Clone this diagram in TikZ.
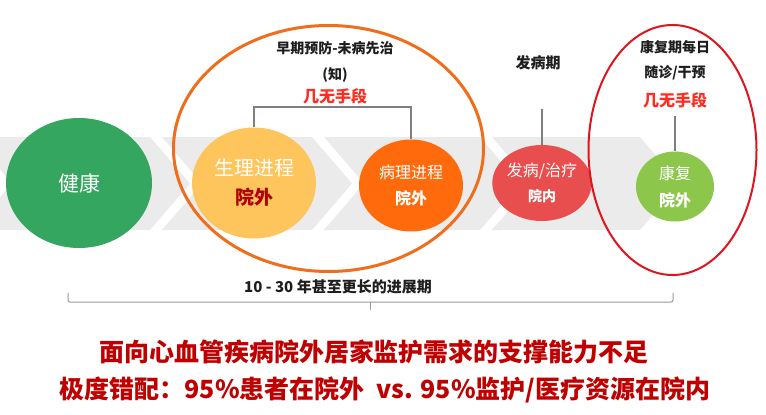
\documentclass[tikz,border=0pt]{standalone}
\usepackage{fontspec}
\setmainfont{Noto Sans CJK SC}
\usetikzlibrary{shapes.geometric}
\definecolor{bandgray}{HTML}{EBEBEB}
\definecolor{cgreen}{HTML}{34A65F}
\definecolor{cyellow}{HTML}{FDC55B}
\definecolor{corange}{HTML}{FF6A0D}
\definecolor{cred}{HTML}{E84E4E}
\definecolor{clgreen}{HTML}{8CC64B}
\definecolor{ringorange}{HTML}{EF6E1C}
\definecolor{ringred}{HTML}{E0141E}
\definecolor{brightred}{HTML}{FF2D1F}
\definecolor{darkred}{HTML}{B00000}
\definecolor{bottomred}{HTML}{C00000}
\definecolor{conngray}{HTML}{7F7F7F}
\definecolor{labelblack}{HTML}{1E1E1E}
\begin{document}
\begin{tikzpicture}[x=1pt,y=-1pt,
  stage/.style={ellipse,inner sep=0pt,text=white,align=center},
  ring/.style={ellipse,inner sep=0pt},
  toplabel/.style={inner sep=0pt,text=labelblack,font=\bfseries\fontsize{14pt}{16pt}\selectfont},
  redlabel/.style={inner sep=0pt,text=brightred,font=\bfseries\fontsize{16pt}{18pt}\selectfont},
  bottomline/.style={inner sep=0pt,text=bottomred,font=\bfseries\fontsize{25pt}{28pt}\selectfont},
  conn/.style={draw=conngray,line width=1.3pt},
  brace/.style={draw=conngray!80,line width=1pt,rounded corners=2pt}]
\useasboundingbox (0,0) rectangle (766,415);
\fill[white] (0,0) rectangle (766,415);
% chevron band
\fill[bandgray] (-28,137) -- (150,137) -- (190,183.5) -- (150,230) -- (-28,230) -- (12,183.5) -- cycle;
\fill[bandgray] (162,137) -- (312,137) -- (352,183.5) -- (312,230) -- (162,230) -- (202,183.5) -- cycle;
\fill[bandgray] (324,137) -- (480,137) -- (520,183.5) -- (480,230) -- (324,230) -- (364,183.5) -- cycle;
\fill[bandgray] (492,137) -- (640,137) -- (680,183.5) -- (640,230) -- (492,230) -- (532,183.5) -- cycle;
% stage circles
\node[stage,fill=cgreen,minimum width=146pt,minimum height=130pt,font=\fontsize{21pt}{25pt}\selectfont] (health) at (79,183) {健康};
\node[stage,fill=cyellow,minimum width=124pt,minimum height=111pt,font=\fontsize{20pt}{29pt}\selectfont] (sl) at (254,183) {生理进程\\{\color{darkred}\bfseries\fontsize{19pt}{29pt}\selectfont 院外}};
\node[stage,fill=corange,minimum width=104pt,minimum height=92pt,font=\fontsize{16pt}{26pt}\selectfont] (bl) at (411,185.5) {病理进程\\{\bfseries 院外}};
\node[stage,fill=cred,minimum width=86pt,minimum height=76pt,font=\fontsize{16pt}{25pt}\selectfont] (fb) at (542,183) {发病/治疗\\{\bfseries\fontsize{14pt}{25pt}\selectfont 院内}};
\node[stage,fill=clgreen,minimum width=78pt,minimum height=70pt,font=\fontsize{16pt}{27pt}\selectfont] (kf) at (675,186.5) {康复\\{\bfseries 院外}};
% rings
\node[ring,draw=ringorange,line width=3pt,minimum width=310pt,minimum height=246pt] (ringA) at (328.5,148.5) {};
\node[ring,draw=ringred,line width=2pt,minimum width=168pt,minimum height=250pt] (ringB) at (672.5,150) {};
% top labels
\node[toplabel] (zq) at (335,48) {早期预防-未病先治};
\node[toplabel] (zhi) at (335,75) {(知)};
\node[redlabel] (jw1) at (335,96) {几无手段};
\node[toplabel,font=\bfseries\fontsize{15pt}{17pt}\selectfont] (fbq) at (538,63) {发病期};
\node[toplabel] (kfa) at (675,47) {康复期每日};
\node[toplabel] (kfb) at (675,73) {随诊/干预};
\node[redlabel] (jw2) at (675,100) {几无手段};
% connectors
\coordinate (brk) at (333,107);
\draw[conn] (sl.north) |- (brk) -| (bl.north);
\coordinate (fbtop) at (542,109);
\draw[conn] (fbtop) -- (fb.north);
\coordinate (kftop) at (675,116);
\draw[conn] (kftop) -- (kf.north);
% brace
\node[toplabel,font=\bfseries\fontsize{15pt}{17pt}\selectfont] (years) at (338,287) {10 - 30 年甚至更长的进展期};
\coordinate (bl1) at (68,293);
\coordinate (bl2) at (68,302);
\coordinate (br2) at (673,302);
\coordinate (br1) at (673,293);
\coordinate (bm1) at (370,302);
\coordinate (bm2) at (370,310);
\draw[brace] (bl1) -- (bl2) -- (br2) -- (br1);
\draw[brace] (bm1) -- (bm2);
% bottom lines
\node[bottomline] (b1) at (374,352) {面向心血管疾病院外居家监护需求的支撑能力不足};
\node[bottomline] (b2) at (385,390) {极度错配：95\%患者在院外\ \ vs. 95\%监护/医疗资源在院内};
\end{tikzpicture}
\end{document}
